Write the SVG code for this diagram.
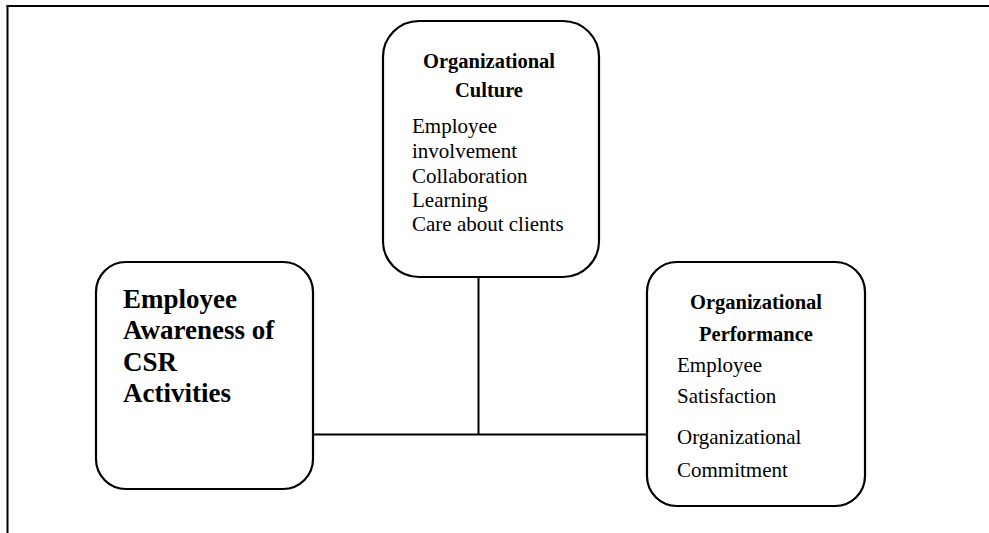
<svg xmlns="http://www.w3.org/2000/svg" width="989" height="533" viewBox="0 0 989 533">
<style>
.box{fill:#fff;stroke:#000;stroke-width:2.2}
.ln{stroke:#000;stroke-width:2;fill:none}
.t{font-family:"Liberation Serif","Times New Roman",serif;fill:#000}
.b{font-weight:bold;font-size:20.5px}
.r{font-size:21px}
.big{font-weight:bold;font-size:27px}
</style>
<g id="frame">
<line class="ln" x1="6.5" y1="6" x2="989" y2="6" stroke-width="3"/>
<line class="ln" x1="7.5" y1="5" x2="7.5" y2="533" stroke-width="2.2"/>
</g>
<g id="connectors">
<line class="ln" x1="313" y1="434.5" x2="647" y2="434.5"/>
<line class="ln" x1="478.5" y1="277" x2="478.5" y2="434.5"/>
</g>
<g id="culture">
<rect class="box" x="383" y="21" width="216" height="256" rx="36" ry="36"/>
<text class="t b" x="489" y="68" text-anchor="middle">Organizational</text>
<text class="t b" x="489" y="97" text-anchor="middle">Culture</text>
<text class="t r" x="412" y="133">Employee</text>
<text class="t r" x="412" y="158">involvement</text>
<text class="t r" x="412" y="183">Collaboration</text>
<text class="t r" x="412" y="207">Learning</text>
<text class="t r" x="412" y="231">Care about clients</text>
</g>
<g id="awareness">
<rect class="box" x="96" y="262" width="217" height="227" rx="30" ry="30"/>
<text class="t big" x="123" y="308">Employee</text>
<text class="t big" x="123" y="339">Awareness of</text>
<text class="t big" x="123" y="371">CSR</text>
<text class="t big" x="123" y="402">Activities</text>
</g>
<g id="performance">
<rect class="box" x="647" y="262" width="218" height="244" rx="30" ry="30"/>
<text class="t b" x="756" y="309" text-anchor="middle">Organizational</text>
<text class="t b" x="756" y="341" text-anchor="middle">Performance</text>
<text class="t r" x="677" y="372">Employee</text>
<text class="t r" x="677" y="403">Satisfaction</text>
<text class="t r" x="677" y="444">Organizational</text>
<text class="t r" x="677" y="477">Commitment</text>
</g>
</svg>
